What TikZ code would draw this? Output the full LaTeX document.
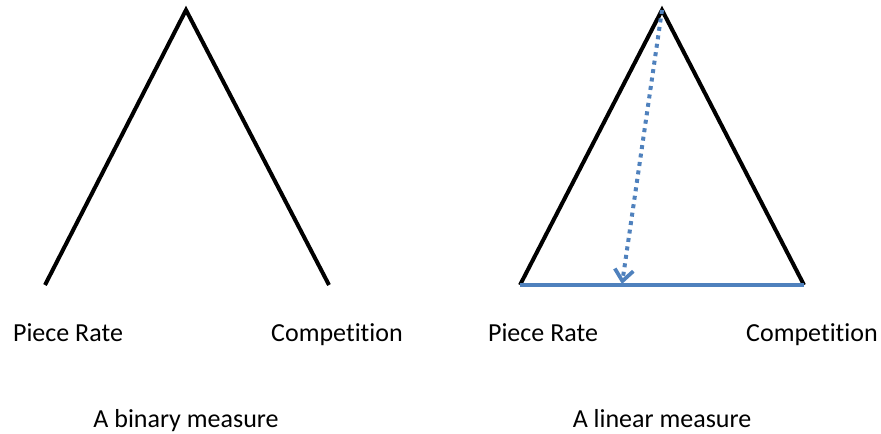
\documentclass[tikz,border=0pt]{standalone}
\usepackage{fontspec}
\setmainfont[Ligatures=NoCommon]{Carlito}
\usetikzlibrary{arrows.meta}
\definecolor{officeblue}{HTML}{4F81BD}
\tikzset{
  leg/.style={line width=3pt,black,line cap=butt},
  base/.style={line width=2.4pt,officeblue},
  guess/.style={line width=3pt,officeblue,dash pattern=on 3pt off 3.4pt,-{Straight Barb[length=8.5pt,width=14pt,line width=2.8pt]}},
  lbl/.style={font=\fontsize{19.5pt}{22pt}\selectfont,inner sep=0pt,anchor=base}
}

\begin{document}
\begin{tikzpicture}[x=0.75pt,y=-0.75pt]
\useasboundingbox (0,0) rectangle (881,434);
% binary measure
\coordinate (topA) at (186,10);
\coordinate (prA) at (45,285);
\coordinate (coA) at (329,285);
\draw[leg] (prA) -- (topA) -- (coA);
\node[lbl] (prlabA) at (68,341) {Piece Rate};
\node[lbl] (colabA) at (337,341) {Competition};
\node[lbl] (capA) at (186,427) {A binary measure};
% linear measure
\coordinate (topB) at (662,10);
\coordinate (prB) at (520,285);
\coordinate (coB) at (804,285);
\coordinate (hitB) at (622,284);
\draw[leg] (prB) -- (topB) -- (coB);
\draw[base] (prB) -- (coB);
\draw[guess] (topB) -- (hitB);
\node[lbl] (prlabB) at (543,341) {Piece Rate};
\node[lbl] (colabB) at (812,341) {Competition};
\node[lbl] (capB) at (662,427) {A linear measure};
\end{tikzpicture}
\end{document}
